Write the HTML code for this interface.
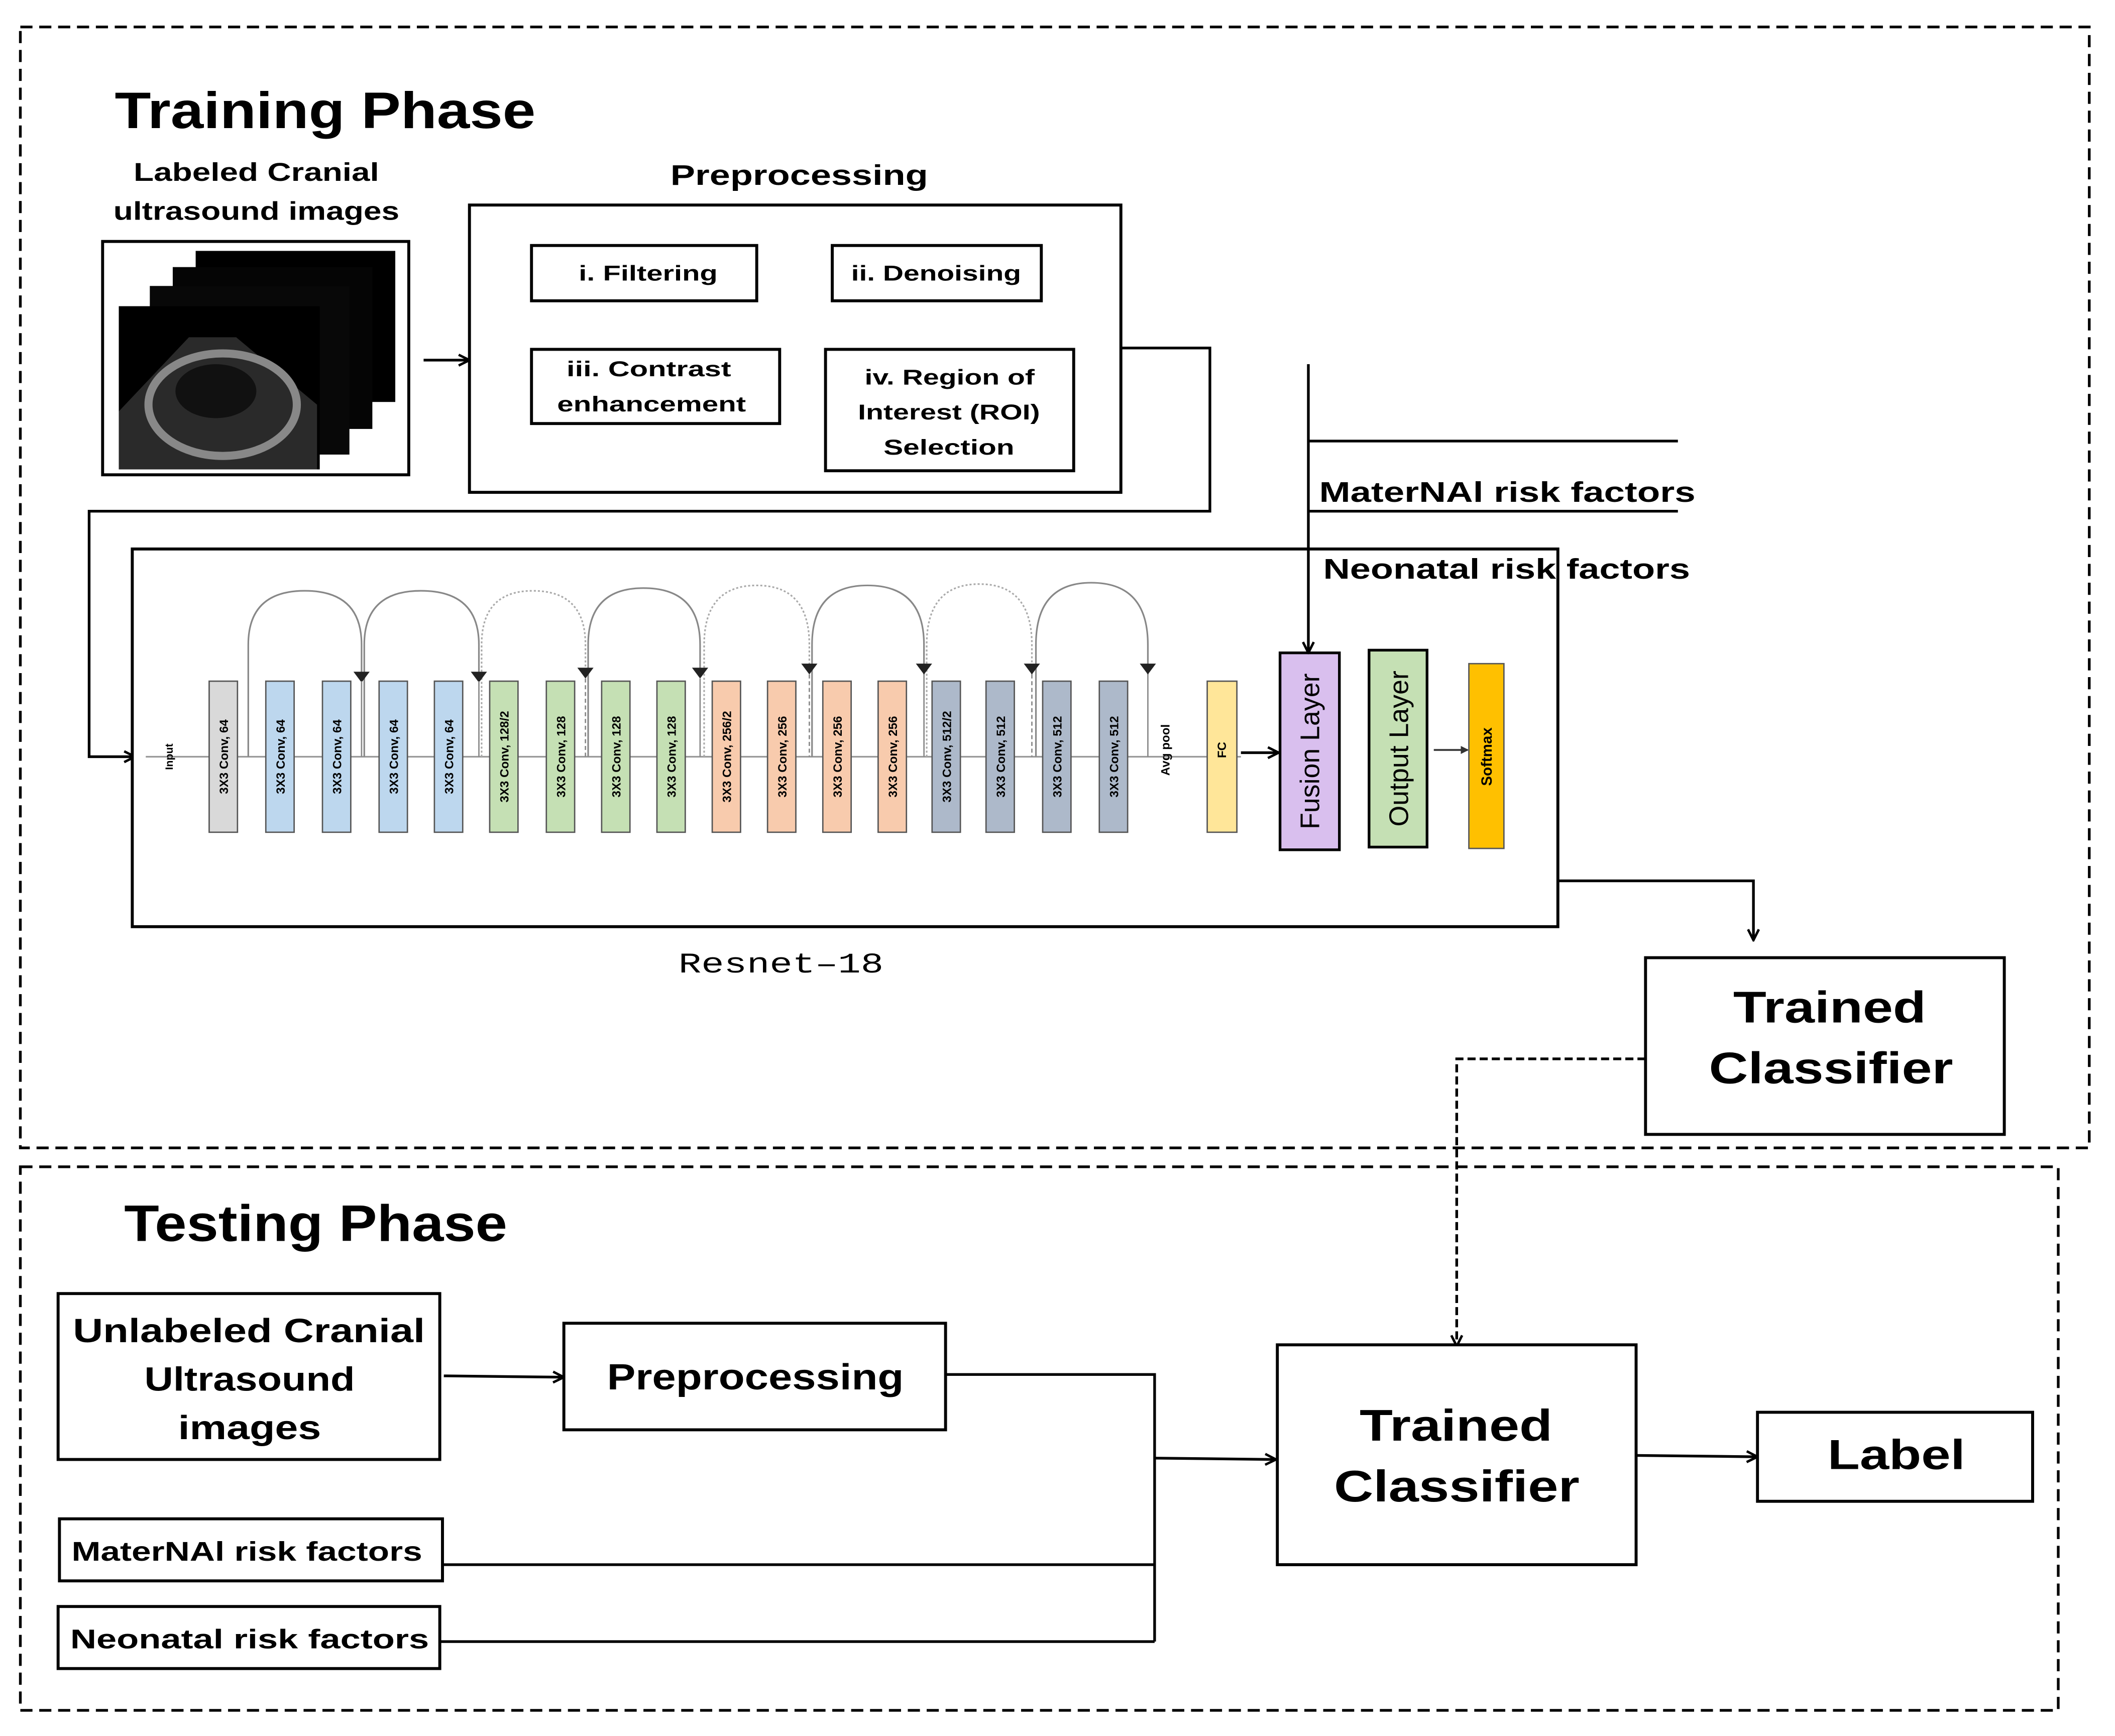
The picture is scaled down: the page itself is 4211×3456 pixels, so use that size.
<!DOCTYPE html>
<html><head><meta charset="utf-8"><style>
html,body{margin:0;padding:0;background:#fff;width:4211px;height:3456px;overflow:hidden}
svg{display:block}
text{font-family:"Liberation Sans",sans-serif;font-weight:bold;fill:#000}
.b{fill:#fff;stroke:#000;stroke-width:2.2}
.l{fill:none;stroke:#000;stroke-width:2}
.blk{stroke:#555;stroke-width:1}
.bt{font-size:9px}
.arc{fill:none;stroke:#888;stroke-width:1.2}
.dot{fill:none;stroke:#aaa;stroke-width:1.2;stroke-dasharray:1.5 1.5}
</style></head><body>
<svg width="4211" height="3456" viewBox="0 0 1568 1287" xmlns="http://www.w3.org/2000/svg">
<defs>
<marker id="a" markerWidth="10" markerHeight="10" refX="9" refY="5" orient="auto" markerUnits="userSpaceOnUse"><path d="M1,1 L9,5 L1,9" fill="none" stroke="#000" stroke-width="1.8"/></marker>
<marker id="s" markerWidth="6" markerHeight="6" refX="5" refY="3" orient="auto" markerUnits="userSpaceOnUse"><path d="M0,0 L6,3 L0,6Z" fill="#333"/></marker>
</defs>
<rect x="15" y="20" width="1534" height="831" fill="none" stroke="#000" stroke-width="2" stroke-dasharray="9 5"/>
<rect x="15" y="865" width="1511" height="403" fill="none" stroke="#000" stroke-width="2" stroke-dasharray="9 5"/>
<text x="85" y="95" font-size="38" textLength="312" lengthAdjust="spacingAndGlyphs">Training Phase</text>
<text x="92" y="920" font-size="38" textLength="284" lengthAdjust="spacingAndGlyphs">Testing Phase</text>

<text x="99" y="134" font-size="19" textLength="182" lengthAdjust="spacingAndGlyphs">Labeled Cranial</text>
<text x="84" y="163" font-size="19" textLength="212" lengthAdjust="spacingAndGlyphs">ultrasound images</text>
<rect x="76" y="179" width="227" height="173" class="b" stroke-width="1.5"/>
<rect x="145" y="186" width="148" height="112" fill="#000"/>
<rect x="128" y="198" width="148" height="120" fill="#050505"/>
<rect x="111" y="212" width="148" height="125" fill="#080808"/>
<rect x="88" y="227" width="149" height="121" fill="#000"/>
<path d="M140,250 L88,305 L88,348 L235,348 L235,300 L175,250Z" fill="#2a2a2a"/>
<ellipse cx="165" cy="300" rx="55" ry="38" fill="none" stroke="#888" stroke-width="6"/>
<ellipse cx="160" cy="290" rx="30" ry="20" fill="#111"/>
<line x1="314" y1="267" x2="348" y2="267" class="l" marker-end="url(#a)"/>

<text x="497" y="137" font-size="21" textLength="191" lengthAdjust="spacingAndGlyphs">Preprocessing</text>
<rect x="348" y="152" width="483" height="213" class="b"/>
<rect x="394" y="182" width="167" height="41" class="b"/>
<text x="429" y="208" font-size="16" textLength="103" lengthAdjust="spacingAndGlyphs">i. Filtering</text>
<rect x="617" y="182" width="155" height="41" class="b"/>
<text x="631" y="208" font-size="16" textLength="126" lengthAdjust="spacingAndGlyphs">ii. Denoising</text>
<rect x="394" y="259" width="184" height="55" class="b"/>
<text x="420" y="279" font-size="16" textLength="122" lengthAdjust="spacingAndGlyphs">iii. Contrast</text>
<text x="413" y="305" font-size="16" textLength="140" lengthAdjust="spacingAndGlyphs">enhancement</text>
<rect x="612" y="259" width="184" height="90" class="b"/>
<text x="641" y="285" font-size="16" textLength="126" lengthAdjust="spacingAndGlyphs">iv. Region of</text>
<text x="636" y="311" font-size="16" textLength="135" lengthAdjust="spacingAndGlyphs">Interest (ROI)</text>
<text x="655" y="337" font-size="16" textLength="97" lengthAdjust="spacingAndGlyphs">Selection</text>
<polyline points="831,258 897,258 897,379 66,379 66,561 100,561" class="l" marker-end="url(#a)"/>

<rect x="98" y="407" width="1057" height="280" class="b"/>
<text x="503" y="721" font-size="21" textLength="152" lengthAdjust="spacingAndGlyphs" style="font-family:'Liberation Mono',monospace;font-weight:normal">Resnet–18</text>
<line x1="108" y1="561" x2="920" y2="561" stroke="#999" stroke-width="1.2"/>
<g>
<rect x="155" y="505" width="21" height="112" fill="#d9d9d9" class="blk"/>
<rect x="197" y="505" width="21" height="112" fill="#bdd7ee" class="blk"/>
<rect x="239" y="505" width="21" height="112" fill="#bdd7ee" class="blk"/>
<rect x="281" y="505" width="21" height="112" fill="#bdd7ee" class="blk"/>
<rect x="322" y="505" width="21" height="112" fill="#bdd7ee" class="blk"/>
<rect x="363" y="505" width="21" height="112" fill="#c5e0b4" class="blk"/>
<rect x="405" y="505" width="21" height="112" fill="#c5e0b4" class="blk"/>
<rect x="446" y="505" width="21" height="112" fill="#c5e0b4" class="blk"/>
<rect x="487" y="505" width="21" height="112" fill="#c5e0b4" class="blk"/>
<rect x="528" y="505" width="21" height="112" fill="#f8cbad" class="blk"/>
<rect x="569" y="505" width="21" height="112" fill="#f8cbad" class="blk"/>
<rect x="610" y="505" width="21" height="112" fill="#f8cbad" class="blk"/>
<rect x="651" y="505" width="21" height="112" fill="#f8cbad" class="blk"/>
<rect x="691" y="505" width="21" height="112" fill="#adb9ca" class="blk"/>
<rect x="731" y="505" width="21" height="112" fill="#adb9ca" class="blk"/>
<rect x="773" y="505" width="21" height="112" fill="#adb9ca" class="blk"/>
<rect x="815" y="505" width="21" height="112" fill="#adb9ca" class="blk"/>
<rect x="895" y="505" width="22" height="112" fill="#ffe699" class="blk"/>
</g>
<g class="bt" text-anchor="middle">
<text transform="translate(128,561) rotate(-90)" font-size="8">Input</text>
<text transform="translate(169,561) rotate(-90)">3X3 Conv, 64</text>
<text transform="translate(211,561) rotate(-90)">3X3 Conv, 64</text>
<text transform="translate(253,561) rotate(-90)">3X3 Conv, 64</text>
<text transform="translate(295,561) rotate(-90)">3X3 Conv, 64</text>
<text transform="translate(336,561) rotate(-90)">3X3 Conv, 64</text>
<text transform="translate(377,561) rotate(-90)">3X3 Conv, 128/2</text>
<text transform="translate(419,561) rotate(-90)">3X3 Conv, 128</text>
<text transform="translate(460,561) rotate(-90)">3X3 Conv, 128</text>
<text transform="translate(501,561) rotate(-90)">3X3 Conv, 128</text>
<text transform="translate(542,561) rotate(-90)">3X3 Conv, 256/2</text>
<text transform="translate(583,561) rotate(-90)">3X3 Conv, 256</text>
<text transform="translate(624,561) rotate(-90)">3X3 Conv, 256</text>
<text transform="translate(665,561) rotate(-90)">3X3 Conv, 256</text>
<text transform="translate(705,561) rotate(-90)">3X3 Conv, 512/2</text>
<text transform="translate(745,561) rotate(-90)">3X3 Conv, 512</text>
<text transform="translate(787,561) rotate(-90)">3X3 Conv, 512</text>
<text transform="translate(829,561) rotate(-90)">3X3 Conv, 512</text>
<text transform="translate(867,556) rotate(-90)">Avg pool</text>
<text transform="translate(909,556) rotate(-90)">FC</text>
</g>
<path d="M184,561 V478 Q184,438 226,438 Q268,438 268,478 V500" class="arc"/>
<path d="M270,561 V478 Q270,438 312,438 Q355,438 355,478 V500" class="arc"/>
<path d="M357,561 V478 Q357,438 395,438 Q434,438 434,478 V500" class="dot"/>
<path d="M436,561 V478 Q436,436 477,436 Q519,436 519,478 V500" class="arc"/>
<path d="M522,561 V478 Q522,434 561,434 Q600,434 600,478 V500" class="dot"/>
<path d="M602,561 V478 Q602,434 643,434 Q685,434 685,478 V500" class="arc"/>
<path d="M687,561 V478 Q687,433 726,433 Q765,433 765,478 V500" class="dot"/>
<path d="M768,561 V478 Q768,432 809,432 Q851,432 851,478 V500" class="arc"/>
<g fill="#222">
<path d="M262,498 h12 l-6,8z"/><path d="M349,498 h12 l-6,8z"/><path d="M428,495 h12 l-6,8z"/><path d="M513,495 h12 l-6,8z"/><path d="M594,492 h12 l-6,8z"/><path d="M679,492 h12 l-6,8z"/><path d="M759,492 h12 l-6,8z"/><path d="M845,492 h12 l-6,8z"/>
</g>
<line x1="268" y1="505" x2="268" y2="561" stroke="#888" stroke-width="1"/>
<line x1="355" y1="505" x2="355" y2="561" stroke="#888" stroke-width="1"/>
<line x1="434" y1="503" x2="434" y2="561" stroke="#888" stroke-width="1" stroke-dasharray="3 2"/>
<line x1="519" y1="503" x2="519" y2="561" stroke="#888" stroke-width="1"/>
<line x1="600" y1="500" x2="600" y2="561" stroke="#888" stroke-width="1" stroke-dasharray="3 2"/>
<line x1="685" y1="500" x2="685" y2="561" stroke="#888" stroke-width="1"/>
<line x1="765" y1="500" x2="765" y2="561" stroke="#888" stroke-width="1" stroke-dasharray="3 2"/>
<line x1="851" y1="500" x2="851" y2="561" stroke="#888" stroke-width="1"/>
<line x1="920" y1="558" x2="948" y2="558" class="l" marker-end="url(#a)"/>
<rect x="949" y="484" width="44" height="146" fill="#d9bfee" stroke="#000" stroke-width="2"/>
<text transform="translate(978,557) rotate(-90)" font-size="20" text-anchor="middle" style="font-weight:normal">Fusion Layer</text>
<rect x="1015" y="482" width="43" height="146" fill="#c5e0b4" stroke="#000" stroke-width="2"/>
<text transform="translate(1044,555) rotate(-90)" font-size="20" text-anchor="middle" style="font-weight:normal">Output Layer</text>
<line x1="1063" y1="556" x2="1088" y2="556" stroke="#444" stroke-width="1.5" marker-end="url(#s)"/>
<rect x="1089" y="492" width="26" height="137" fill="#ffc000" stroke="#555" stroke-width="1"/>
<text transform="translate(1106,561) rotate(-90)" font-size="11" text-anchor="middle">Softmax</text>

<line x1="970" y1="270" x2="970" y2="484" class="l" marker-end="url(#a)"/>
<line x1="970" y1="327" x2="1244" y2="327" class="l"/>
<text x="978" y="372" font-size="21" textLength="279" lengthAdjust="spacingAndGlyphs">MaterNAl risk factors</text>
<line x1="970" y1="379" x2="1244" y2="379" class="l"/>
<text x="981" y="429" font-size="21" textLength="272" lengthAdjust="spacingAndGlyphs">Neonatal risk factors</text>

<polyline points="1155,653 1300,653 1300,697" class="l" marker-end="url(#a)"/>
<rect x="1220" y="710" width="266" height="131" class="b"/>
<text x="1285" y="758" font-size="33" textLength="143" lengthAdjust="spacingAndGlyphs">Trained</text>
<text x="1267" y="803" font-size="33" textLength="181" lengthAdjust="spacingAndGlyphs">Classifier</text>
<polyline points="1220,785 1080,785 1080,998" fill="none" stroke="#000" stroke-width="2" stroke-dasharray="6 3" marker-end="url(#a)"/>

<rect x="43" y="959" width="283" height="123" class="b"/>
<text x="54" y="995" font-size="25" textLength="261" lengthAdjust="spacingAndGlyphs">Unlabeled Cranial</text>
<text x="107" y="1031" font-size="25" textLength="156" lengthAdjust="spacingAndGlyphs">Ultrasound</text>
<text x="132" y="1067" font-size="25" textLength="106" lengthAdjust="spacingAndGlyphs">images</text>
<line x1="329" y1="1020" x2="418" y2="1021" class="l" marker-end="url(#a)"/>
<rect x="418" y="981" width="283" height="79" class="b"/>
<text x="450" y="1030" font-size="27" textLength="220" lengthAdjust="spacingAndGlyphs">Preprocessing</text>
<polyline points="701,1019 856,1019 856,1217" class="l"/>
<rect x="44" y="1126" width="284" height="46" class="b"/>
<text x="53" y="1157" font-size="20" textLength="260" lengthAdjust="spacingAndGlyphs">MaterNAl risk factors</text>
<line x1="328" y1="1160" x2="856" y2="1160" class="l"/>
<rect x="43" y="1191" width="283" height="46" class="b"/>
<text x="52" y="1222" font-size="20" textLength="266" lengthAdjust="spacingAndGlyphs">Neonatal risk factors</text>
<line x1="326" y1="1217" x2="856" y2="1217" class="l"/>
<line x1="856" y1="1081" x2="946" y2="1082" class="l" marker-end="url(#a)"/>
<rect x="947" y="997" width="266" height="163" class="b"/>
<text x="1008" y="1068" font-size="33" textLength="143" lengthAdjust="spacingAndGlyphs">Trained</text>
<text x="989" y="1113" font-size="33" textLength="182" lengthAdjust="spacingAndGlyphs">Classifier</text>
<line x1="1213" y1="1079" x2="1303" y2="1080" class="l" marker-end="url(#a)"/>
<rect x="1303" y="1047" width="204" height="66" class="b"/>
<text x="1355" y="1089" font-size="31" textLength="102" lengthAdjust="spacingAndGlyphs">Label</text>
</svg>
</body></html>
